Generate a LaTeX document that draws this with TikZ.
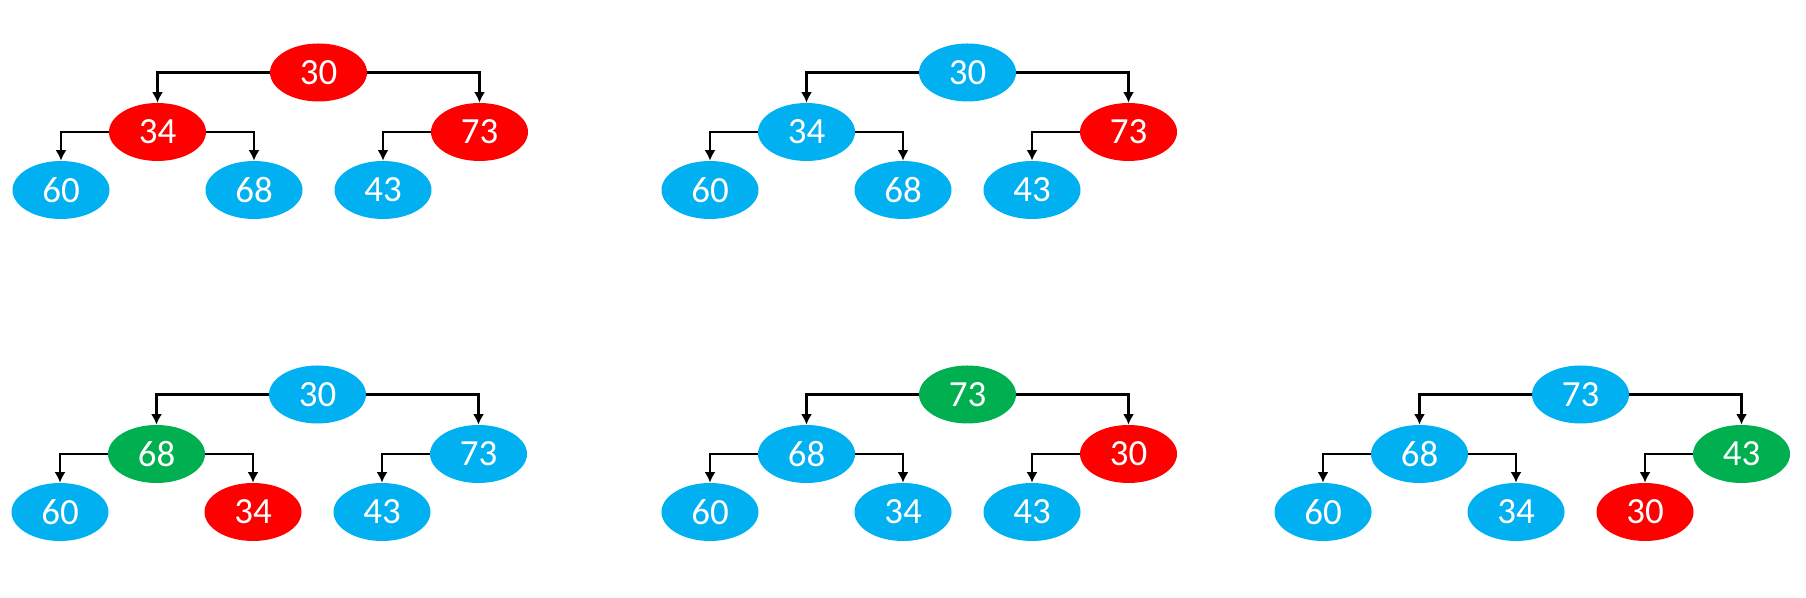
\documentclass[tikz,border=0pt]{standalone}
\usepackage{fontspec}
\setmainfont{Carlito}
\usepackage{tikz}
\usetikzlibrary{shapes.geometric,arrows.meta}
\definecolor{heapblue}{RGB}{0,176,240}
\definecolor{heapred}{RGB}{255,0,0}
\definecolor{heapgreen}{RGB}{0,176,80}

\begin{document}
\begin{tikzpicture}[>={Latex[length=2.1mm,width=2.2mm]}]

\tikzset{
heapnode/.style={ellipse,minimum width=1.94cm,minimum height=1.16cm,inner sep=0pt,text=white,font=\fontsize{21}{24}\selectfont},
bluenode/.style={heapnode,fill=heapblue},
rednode/.style={heapnode,fill=heapred},
greennode/.style={heapnode,fill=heapgreen},
link/.style={->,line width=1.3pt}
}

\useasboundingbox (0,0) rectangle (36.12,11.96);

% tree 1
\node[rednode] (tree1-root) at (6.37,10.51) {30};
\node[rednode] (tree1-left) at (3.15,9.32) {34};
\node[rednode] (tree1-right) at (9.59,9.32) {73};
\node[bluenode] (tree1-left-left) at (1.22,8.16) {60};
\node[bluenode] (tree1-left-right) at (5.08,8.16) {68};
\node[bluenode] (tree1-right-left) at (7.66,8.16) {43};

% tree 2
\node[bluenode] (tree2-root) at (19.35,10.51) {30};
\node[bluenode] (tree2-left) at (16.13,9.32) {34};
\node[rednode] (tree2-right) at (22.57,9.32) {73};
\node[bluenode] (tree2-left-left) at (14.20,8.16) {60};
\node[bluenode] (tree2-left-right) at (18.06,8.16) {68};
\node[bluenode] (tree2-right-left) at (20.64,8.16) {43};

% tree 3
\node[bluenode] (tree3-root) at (6.35,4.07) {30};
\node[greennode] (tree3-left) at (3.13,2.88) {68};
\node[bluenode] (tree3-right) at (9.57,2.88) {73};
\node[bluenode] (tree3-left-left) at (1.20,1.72) {60};
\node[rednode] (tree3-left-right) at (5.06,1.72) {34};
\node[bluenode] (tree3-right-left) at (7.64,1.72) {43};

% tree 4
\node[greennode] (tree4-root) at (19.35,4.07) {73};
\node[bluenode] (tree4-left) at (16.13,2.88) {68};
\node[rednode] (tree4-right) at (22.57,2.88) {30};
\node[bluenode] (tree4-left-left) at (14.20,1.72) {60};
\node[bluenode] (tree4-left-right) at (18.06,1.72) {34};
\node[bluenode] (tree4-right-left) at (20.64,1.72) {43};

% tree 5
\node[bluenode] (tree5-root) at (31.61,4.07) {73};
\node[bluenode] (tree5-left) at (28.39,2.88) {68};
\node[greennode] (tree5-right) at (34.83,2.88) {43};
\node[bluenode] (tree5-left-left) at (26.46,1.72) {60};
\node[bluenode] (tree5-left-right) at (30.32,1.72) {34};
\node[rednode] (tree5-right-left) at (32.90,1.72) {30};

\foreach \t in {tree1,tree2,tree3,tree4,tree5} {
\draw[link] (\t-root) -| (\t-left);
\draw[link] (\t-root) -| (\t-right);
\draw[link] (\t-left) -| (\t-left-left);
\draw[link] (\t-left) -| (\t-left-right);
\draw[link] (\t-right) -| (\t-right-left);
}

\end{tikzpicture}
\end{document}
